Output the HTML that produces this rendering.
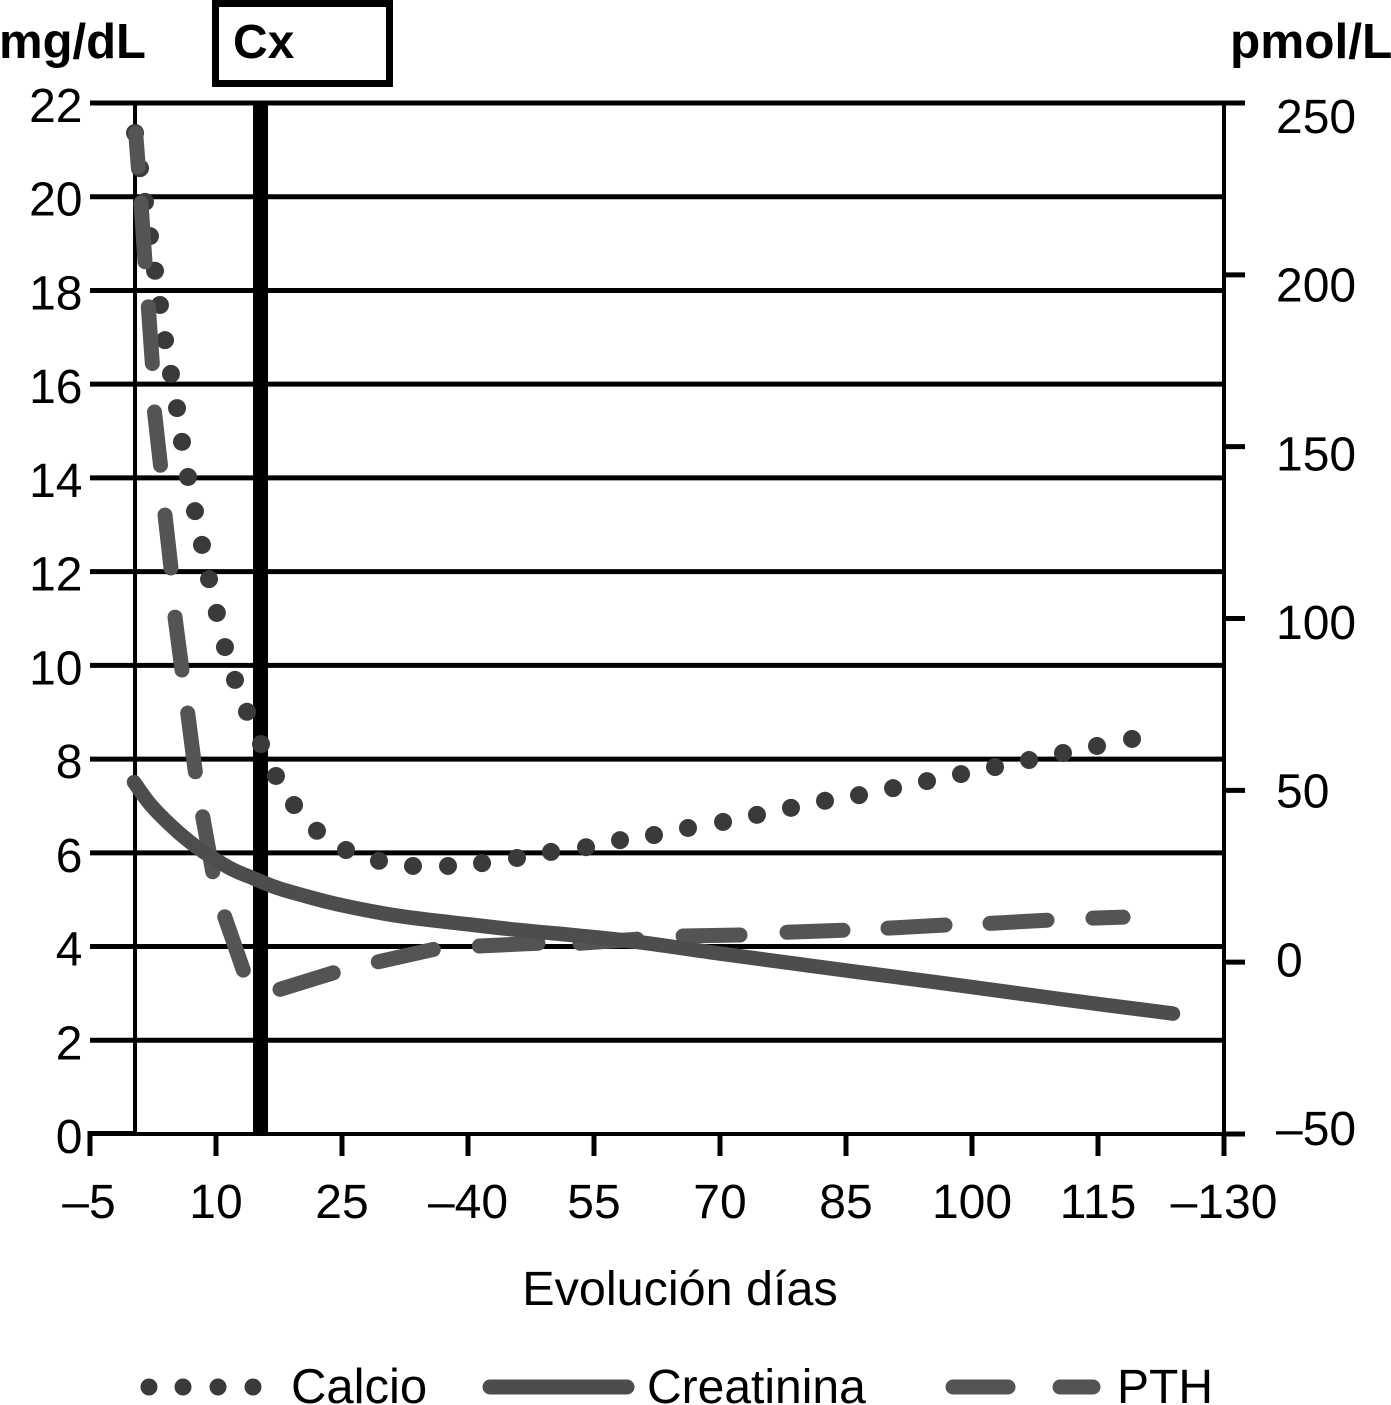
<!DOCTYPE html>
<html lang="es">
<head>
<meta charset="utf-8">
<title>Evolución de calcio, creatinina y PTH</title>
<style>
html,body{margin:0;padding:0;background:#fff;}
body{width:1391px;height:1405px;overflow:hidden;}
svg{display:block;}
text{font-family:"Liberation Sans",Arial,sans-serif;font-size:48px;fill:#000;}
.bold{font-weight:bold;}
</style>
</head>
<body>
<svg id="chart" width="1391" height="1405" viewBox="0 0 1391 1405" xmlns="http://www.w3.org/2000/svg">
  <rect x="0" y="0" width="1391" height="1405" fill="#fff"/>
  <g id="grid"></g>
  <g id="axes"></g>
  <g id="marker"></g>
  <g id="calcio"></g>
  <g id="pth"></g>
  <g id="creatinina"></g>
  <g id="labels"></g>

  <text class="bold" x="-1" y="58" style="font-size:49px">mg/dL</text>
  <text class="bold" x="1230" y="58" style="font-size:49.5px">pmol/L</text>
  <rect x="215.5" y="3.5" width="174" height="80" fill="#fff" stroke="#000" stroke-width="7"/>
  <text class="bold" x="233" y="58">Cx</text>
  <text x="680" y="1305" text-anchor="middle" style="font-size:48.5px">Evolución días</text>

  <g>
    <g>
      <circle cx="149" cy="1387" r="8.5" fill="#3a3a3a"/>
      <circle cx="183" cy="1387" r="8.5" fill="#3a3a3a"/>
      <circle cx="218" cy="1387" r="8.5" fill="#3a3a3a"/>
      <circle cx="253" cy="1387" r="8.5" fill="#3a3a3a"/>
      <text x="291" y="1403" style="font-size:49px">Calcio</text>
    </g>
    <g>
      <line x1="490" y1="1387" x2="627" y2="1387" stroke="#4d4d4d" stroke-width="15" stroke-linecap="round"/>
      <text x="647" y="1403">Creatinina</text>
    </g>
    <g>
      <line x1="953" y1="1387" x2="1008" y2="1387" stroke="#545454" stroke-width="15" stroke-linecap="round"/>
      <line x1="1060" y1="1387" x2="1093" y2="1387" stroke="#545454" stroke-width="15" stroke-linecap="round"/>
      <text x="1117" y="1403">PTH</text>
    </g>
  </g>
</svg>
<script>
// Axis tick data
const xTickValues = [-5, 10, 25, 40, 55, 70, 85, 100, 115, 130];
const xTickLabels = ['–5', '10', '25', '–40', '55', '70', '85', '100', '115', '–130'];
const leftTickValues = [0, 2, 4, 6, 8, 10, 12, 14, 16, 18, 20, 22];
const rightTickValues = [-50, 0, 50, 100, 150, 200, 250];
const rightTickLabels = ['–50', '0', '50', '100', '150', '200', '250'];
const surgeryDay = [15.3];

// Calcio (mg/dL)
const calcioDays = [0.36, 0.95, 1.55, 2.14, 2.74, 3.33, 3.93, 4.64, 5.36, 5.95, 6.67, 7.5, 8.33, 9.17, 10.1, 11.07, 12.26, 13.69, 15.36, 17.14, 19.29, 22.02, 25.48, 29.4, 33.45, 37.62, 41.67, 45.83, 49.88, 54.05, 58.1, 62.14, 66.19, 70.36, 74.4, 78.45, 82.5, 86.55, 90.6, 94.64, 98.69, 102.74, 106.79, 110.83, 114.88, 119.05];
const calcioValues = [21.36, 20.61, 19.89, 19.16, 18.42, 17.69, 16.94, 16.22, 15.49, 14.77, 14.02, 13.29, 12.57, 11.84, 11.12, 10.39, 9.69, 9.01, 8.32, 7.64, 7.02, 6.47, 6.06, 5.83, 5.72, 5.72, 5.78, 5.89, 6.02, 6.12, 6.27, 6.38, 6.53, 6.66, 6.81, 6.96, 7.11, 7.23, 7.38, 7.53, 7.68, 7.83, 7.98, 8.13, 8.28, 8.43];

// Creatinina (mg/dL)
const creatininaDays = [0.24, 2.14, 4.52, 6.9, 9.29, 11.9, 14.4, 17.02, 20, 24.76, 31.9, 40.24, 46.19, 53.33, 60.48, 70, 78.33, 86.67, 98.57, 110.48, 123.93];
const creatininaValues = [7.51, 7.04, 6.6, 6.23, 5.93, 5.65, 5.46, 5.27, 5.11, 4.89, 4.65, 4.47, 4.35, 4.23, 4.09, 3.85, 3.65, 3.45, 3.17, 2.88, 2.57];

// PTH (pmol/L): readings at the ends of each visible dash, taken in pairs
const pthDays = [0.44, 0.75, 1.07, 1.55, 1.94, 2.42, 2.68, 3.39, 3.93, 4.64, 5.12, 5.95, 6.63, 7.54, 8.42, 9.61, 11.04, 13.25, 17.62, 23.96, 29.32, 35.87, 41.35, 48.33, 53.33, 60.12, 65.6, 72.38, 77.98, 84.64, 90, 96.79, 102.14, 108.93, 114.4, 117.98];
const pthValues = [241.2, 231.4, 220.9, 203.8, 190.7, 174.2, 160.1, 144.6, 130.1, 114.7, 100.4, 85, 72.5, 55.4, 42.3, 26.3, 13.2, -2.3, -7.9, -3.1, 0.1, 3.7, 4.7, 5.5, 5.5, 6.7, 7.6, 7.9, 8.7, 9.3, 9.9, 10.8, 11.3, 12.2, 12.8, 13.1];

const NS = 'http://www.w3.org/2000/svg';
const plot = {left: 90, right: 1224, top: 103, bottom: 1134};

function xScale(day) {
  return plot.left + (day + 5) * (plot.right - plot.left) / 135;
}
function yLeft(v) {
  return plot.bottom - v * (plot.bottom - plot.top) / 22;
}
function yRight(v) {
  return plot.bottom - (v + 50) * (plot.bottom - plot.top) / 300;
}
function rightLabelBaseline(v) {
  return 1128 - (v + 50) * 1012 / 300 + 17;
}
function make(tag, parent, attrs) {
  const el = document.createElementNS(NS, tag);
  for (const k in attrs) el.setAttribute(k, attrs[k]);
  parent.appendChild(el);
  return el;
}
// Smooth curve through the points (Catmull-Rom converted to cubic Bezier)
function smoothPath(pts) {
  let d = 'M' + pts[0][0].toFixed(1) + ' ' + pts[0][1].toFixed(1);
  for (let i = 0; i < pts.length - 1; i++) {
    const p0 = pts[Math.max(i - 1, 0)];
    const p1 = pts[i];
    const p2 = pts[i + 1];
    const p3 = pts[Math.min(i + 2, pts.length - 1)];
    const c1x = p1[0] + (p2[0] - p0[0]) / 6;
    const c1y = p1[1] + (p2[1] - p0[1]) / 6;
    const c2x = p2[0] - (p3[0] - p1[0]) / 6;
    const c2y = p2[1] - (p3[1] - p1[1]) / 6;
    d += ' C' + c1x.toFixed(1) + ' ' + c1y.toFixed(1) + ' ' + c2x.toFixed(1) + ' ' + c2y.toFixed(1) + ' ' + p2[0].toFixed(1) + ' ' + p2[1].toFixed(1);
  }
  return d;
}

const gridG = document.getElementById('grid');
const axesG = document.getElementById('axes');
const labelsG = document.getElementById('labels');
const markerG = document.getElementById('marker');
const calcioG = document.getElementById('calcio');
const pthG = document.getElementById('pth');
const creatG = document.getElementById('creatinina');

// Gridlines and left labels
leftTickValues.forEach(function (v) {
  const y = yLeft(v);
  const line = make('line', gridG, {x1: plot.left, x2: plot.right, y1: y, y2: y, stroke: '#000', 'stroke-width': v === 0 ? 4 : 5});
  
  
  const t = make('text', labelsG, {x: 82.5, y: y + 19, 'text-anchor': 'end'});
  t.textContent = String(v);
  
  
});

// Vertical axes
const leftAxisX = xScale(0.36);
const leftAxis = make('line', axesG, {x1: leftAxisX, x2: leftAxisX, y1: plot.top, y2: plot.bottom, stroke: '#000', 'stroke-width': 4});


const baseStub = make('line', axesG, {x1: plot.left - 2.5, x2: leftAxisX, y1: plot.bottom - 0.5, y2: plot.bottom - 0.5, stroke: '#000', 'stroke-width': 5});


const rightAxis = make('line', axesG, {x1: plot.right, x2: plot.right, y1: plot.top, y2: plot.bottom, stroke: '#000', 'stroke-width': 4});



// X ticks and labels
xTickValues.forEach(function (v, i) {
  const x = xScale(v);
  const tick = make('line', axesG, {x1: x, x2: x, y1: plot.bottom, y2: 1156, stroke: '#000', 'stroke-width': 5});
  
  
  const t = make('text', labelsG, {x: x - (i === 0 ? 1 : 0), y: 1218, 'text-anchor': 'middle'});
  t.textContent = xTickLabels[i];
  
  
});

// Right ticks and labels
rightTickValues.forEach(function (v, i) {
  const y = yRight(v);
  const tick = make('line', axesG, {x1: plot.right, x2: 1245, y1: y, y2: y, stroke: '#000', 'stroke-width': 5});
  
  
  const t = make('text', labelsG, {x: 1276, y: rightLabelBaseline(v)});
  t.textContent = rightTickLabels[i];
  
  
});

// Surgery marker
surgeryDay.forEach(function (d) {
  const x = xScale(d);
  const l = make('line', markerG, {x1: x, x2: x, y1: plot.top, y2: plot.bottom, stroke: '#000', 'stroke-width': 15});
  
  
});

// Calcio dots
calcioDays.forEach(function (d, i) {
  const c = make('circle', calcioG, {cx: xScale(d), cy: yLeft(calcioValues[i]), r: 9, fill: '#3a3a3a'});
  
  
});

// PTH dashes, each drawn from a pair of readings
for (let i = 0; i + 1 < pthDays.length; i += 2) {
  const s = make('line', pthG, {
    x1: xScale(pthDays[i]), y1: yRight(pthValues[i]),
    x2: xScale(pthDays[i + 1]), y2: yRight(pthValues[i + 1]),
    stroke: '#545454', 'stroke-width': 15, 'stroke-linecap': 'round'
  });
  
  
}

// Creatinina line
const creatPoints = creatininaDays.map(function (d, i) {
  return [xScale(d), yLeft(creatininaValues[i])];
});
const creatLine = make('path', creatG, {d: smoothPath(creatPoints), fill: 'none', stroke: '#4d4d4d', 'stroke-width': 14.5, 'stroke-linecap': 'round', 'stroke-linejoin': 'round'});


</script>
</body>
</html>
